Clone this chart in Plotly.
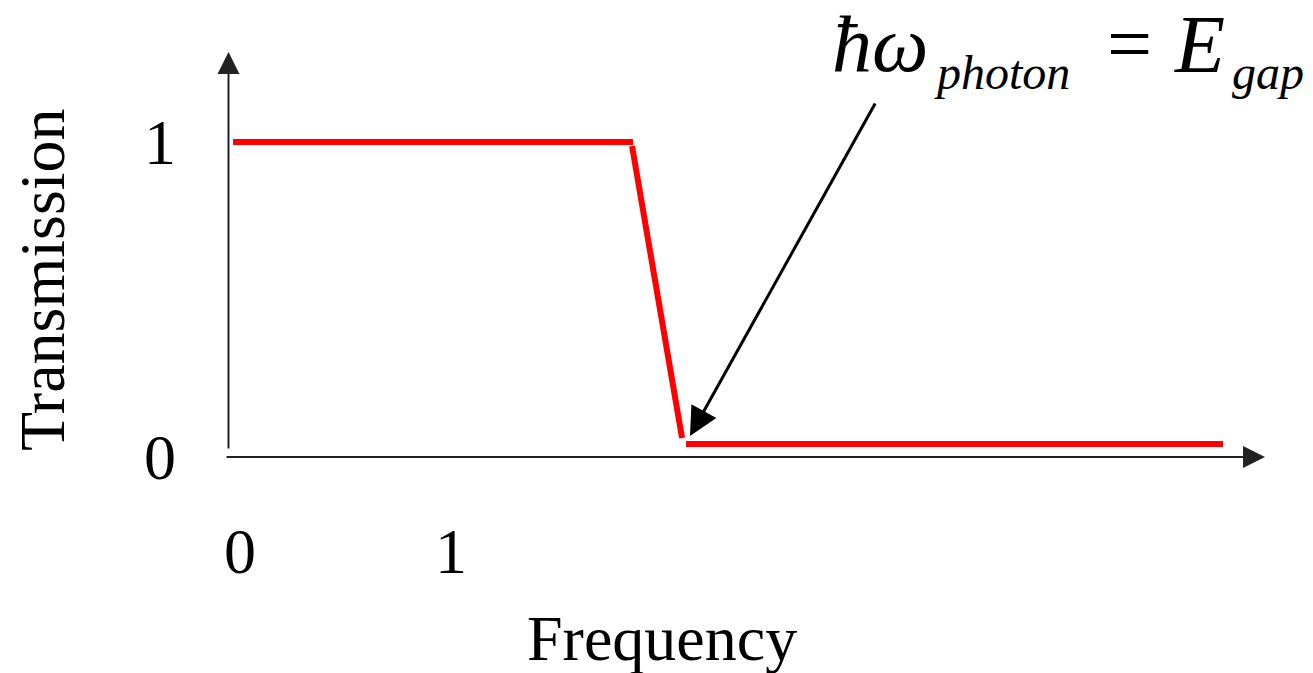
import plotly.graph_objects as go

# data (frequency units: tick "0" -> 0, tick "1" -> 1; transmission 0..1)
top_x = [-0.033, 1.863]
top_y = [1.0, 1.0]
edge_x = [1.858, 2.095]
edge_y = [0.987, 0.060]
bottom_x = [2.114, 4.659]
bottom_y = [0.041, 0.041]

x_ticks = [0, 1]
x_tick_labels = ["0", "1"]
y_ticks = [0, 1]
y_tick_labels = ["0", "1"]

# the page body has an 8px margin, so the figure is a bit smaller than the window
OFF = 8
W, H = 1313 - OFF, 673 - OFF
X0, SX = 240 - OFF, 211   # px of x=0, px per unit
Y0, SY = 457 - OFF, 315   # px of y=0, px per unit


def px_x(p):
    # p is a pixel position in the window
    return (p - OFF - X0) / SX


def px_y(p):
    return (Y0 - (p - OFF)) / SY


SERIF = "Liberation Serif"
red = "#ff0000"

fig = go.Figure()
for xs, ys in [(top_x, top_y), (edge_x, edge_y), (bottom_x, bottom_y)]:
    fig.add_trace(go.Scatter(x=xs, y=ys, mode="lines",
                             line=dict(color=red, width=6),
                             showlegend=False, hoverinfo="skip"))

ann = []
# axes with arrow heads
ann.append(dict(x=px_x(1265), y=0, ax=px_x(225), ay=0,
                xref="x", yref="y", axref="x", ayref="y", text="",
                showarrow=True, arrowhead=2, arrowsize=2.2, arrowwidth=2,
                arrowcolor="#222222", standoff=0))
ann.append(dict(x=px_x(228.5), y=px_y(52), ax=px_x(228.5), ay=px_y(450),
                xref="x", yref="y", axref="x", ayref="y", text="",
                showarrow=True, arrowhead=2, arrowsize=2.2, arrowwidth=2,
                arrowcolor="#222222", standoff=0))
# pointer to the band edge
ann.append(dict(x=px_x(690), y=px_y(436), ax=px_x(876), ay=px_y(102),
                xref="x", yref="y", axref="x", ayref="y", text="",
                showarrow=True, arrowhead=2, arrowsize=1.9, arrowwidth=3,
                arrowcolor="black", standoff=0))

# tick labels
for v, t in zip(x_ticks, x_tick_labels):
    ann.append(dict(x=v, y=px_y(551), xref="x", yref="y", text=t,
                    showarrow=False, font=dict(family=SERIF, size=64, color="black")))
for v, t in zip(y_ticks, y_tick_labels):
    ann.append(dict(x=px_x(160), y=v, xref="x", yref="y", text=t,
                    showarrow=False, font=dict(family=SERIF, size=64, color="black")))

# axis titles
ann.append(dict(x=px_x(662), y=px_y(638), xref="x", yref="y", text="Frequency",
                showarrow=False, font=dict(family=SERIF, size=64, color="black")))
ann.append(dict(x=px_x(42), y=px_y(280), xref="x", yref="y", text="Transmission",
                textangle=-90, showarrow=False,
                font=dict(family=SERIF, size=64, color="black")))

# formula
pieces = [("<i>ħω</i>", 830, 44, 80),
          ("<i>photon</i>", 932, 72, 48),
          ("=", 1105, 44, 80),
          ("<i>E</i>", 1172, 44, 82),
          ("<i>gap</i>", 1230, 72, 48)]
for t, lx, cy, sz in pieces:
    ann.append(dict(x=px_x(lx), y=px_y(cy), xref="x", yref="y", text=t,
                    xanchor="left", yanchor="middle", showarrow=False,
                    font=dict(family=SERIF, size=sz, color="black")))

fig.update_layout(
    width=W, height=H,
    margin=dict(l=0, r=0, t=0, b=0),
    paper_bgcolor="white", plot_bgcolor="white",
    xaxis=dict(range=[px_x(OFF), px_x(W + OFF)], visible=False, fixedrange=True),
    yaxis=dict(range=[px_y(H + OFF), px_y(OFF)], visible=False, fixedrange=True),
    annotations=ann,
)

fig.write_html("out.html")
